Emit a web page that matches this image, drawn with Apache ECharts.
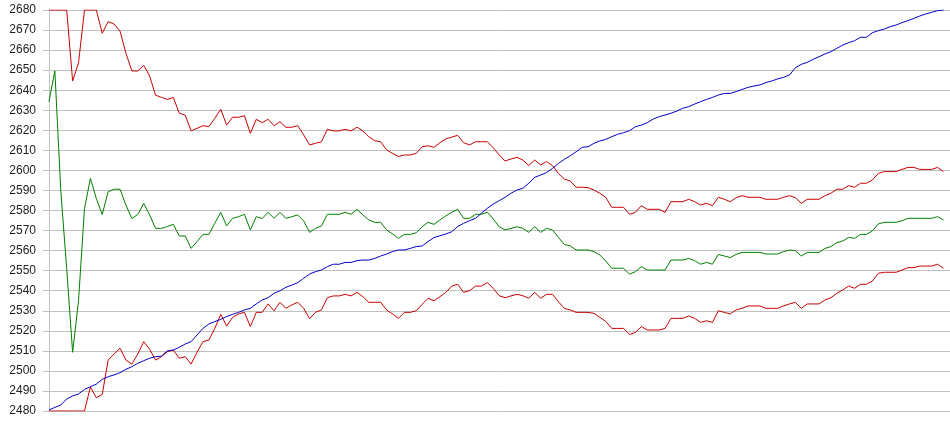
<!DOCTYPE html>
<html>
<head>
<meta charset="utf-8">
<title>Bands</title>
<script src="https://cdn.jsdelivr.net/npm/echarts@6/dist/echarts.min.js"></script>
<style>
  html, body { margin: 0; padding: 0; background: #fff; }
  #chart { width: 950px; height: 435px; }
</style>
</head>
<body>
<div id="chart"></div>
<script>
// y axis ticks
const yTicks = { min: 2480, max: 2680, step: 10 }

// values, one per step
const price = [
  2480.5, 2481.8, 2483, 2486, 2487.5, 2488.5, 2490.8, 2492.1, 2493.4, 2495.8,
  2497.1, 2498, 2499.1, 2500.8, 2502.1, 2503.8, 2505.1, 2506.3, 2507.1, 2507.4,
  2510, 2510.4, 2511.8, 2513.4, 2514.6, 2517.9, 2521.2, 2523.4, 2524.6, 2525.7,
  2527.1, 2528.2, 2529.2, 2530.4, 2531.2, 2533.4, 2535.4, 2536.5, 2538.7, 2540,
  2541.7, 2542.8, 2544, 2546.2, 2548.3, 2549.5, 2550.3, 2552, 2553.2, 2553.2,
  2554.1, 2554.1, 2555, 2555.3, 2555.3, 2556.1, 2557.3, 2558.3, 2559.5, 2560.3,
  2560.3, 2561.1, 2562, 2562.3, 2564.5, 2566.5, 2567.4, 2568.3, 2569.4, 2572,
  2573.6, 2574.9, 2576.1, 2578.6, 2581.1, 2583.2, 2584.9, 2586.6, 2588.6, 2590.2,
  2591.1, 2593.6, 2596.5, 2597.7, 2598.9, 2601, 2603.5, 2605.5, 2607.3, 2609.3,
  2611.5, 2611.8, 2613.5, 2614.7, 2615.5, 2616.8, 2618, 2618.8, 2619.8, 2621.8,
  2622.6, 2623.8, 2625.6, 2626.8, 2627.6, 2628.5, 2629.6, 2631, 2631.8, 2633.1,
  2634.3, 2635.4, 2636.4, 2637.6, 2638.4, 2638.4, 2639.3, 2640.4, 2641.4, 2642.1,
  2642.6, 2643.8, 2644.6, 2645.6, 2646.4, 2647.6, 2651.2, 2652.9, 2653.9, 2655.4,
  2656.7, 2658.1, 2659.2, 2660.9, 2662.5, 2663.7, 2664.7, 2666.4, 2666.4, 2668.7,
  2669.7, 2670.5, 2671.7, 2672.5, 2673.7, 2674.7, 2675.8, 2677, 2678, 2678.8,
  2679.7, 2680
]

const upper = [
  2680, 2680, 2680, 2680, 2644.6, 2653.7, 2680, 2680, 2680, 2668.4,
  2674.2, 2673, 2669.5, 2658.4, 2649.6, 2649.6, 2652.4, 2647.1, 2637.5, 2636.4,
  2635.4, 2636.4, 2628.5, 2627.6, 2619.7, 2621, 2622.3, 2621.8, 2626, 2630.5,
  2622.6, 2626.5, 2626.5, 2627.3, 2618.5, 2625.5, 2623.8, 2625.5, 2622.3, 2624.3,
  2621.5, 2621.5, 2622.3, 2617.7, 2612.7, 2613.5, 2614.3, 2620.5, 2619.7, 2619.7,
  2620.5, 2619.7, 2621.5, 2619.7, 2616.8, 2614.8, 2614.3, 2610.2, 2608.5, 2606.9,
  2607.7, 2607.7, 2608.5, 2611.8, 2612.3, 2611.5, 2613.8, 2615.7, 2616.6, 2617.5,
  2613.8, 2612.7, 2614.3, 2614.3, 2614.3, 2611.3, 2607.7, 2604.7, 2605.7, 2606.5,
  2605.2, 2602.4, 2605.2, 2602.7, 2604.4, 2602.4, 2598.5, 2595.7, 2594.7, 2591.6,
  2591.6, 2591.4, 2590.2, 2588.6, 2586.5, 2581.6, 2581.6, 2581.6, 2578.1, 2579.1,
  2582.4, 2580.6, 2580.6, 2580.6, 2579.1, 2584.4, 2584.4, 2584.4, 2585.6, 2584.4,
  2582.7, 2583.6, 2582.4, 2586.6, 2585.6, 2584.4, 2586.4, 2587.4, 2586.6, 2586.6,
  2586.6, 2585.6, 2585.6, 2585.6, 2586.6, 2587.4, 2586.4, 2583.6, 2585.6, 2585.6,
  2585.6, 2587.4, 2588.6, 2590.6, 2590.6, 2592.4, 2591.6, 2593.6, 2593.6, 2595.2,
  2598.5, 2599.4, 2599.4, 2599.4, 2600.5, 2601.5, 2601.5, 2600.5, 2600.5, 2600.5,
  2601.5, 2599.4
]

const middle = [
  2634.3, 2649.6, 2590, 2551, 2509.3, 2535, 2581, 2596, 2586, 2578,
  2589.4, 2590.6, 2590.6, 2582.7, 2576, 2578, 2583.6, 2577.8, 2571.1, 2571.1,
  2572, 2573.1, 2567.3, 2567.3, 2561.1, 2564.5, 2568.1, 2568.1, 2573.6, 2579.1,
  2572.3, 2576.1, 2576.9, 2578.1, 2570.3, 2576.9, 2576, 2579.1, 2576.1, 2579.1,
  2576.1, 2576.9, 2577.8, 2574.8, 2569.1, 2571.1, 2572.3, 2578.1, 2578.1, 2578.1,
  2579.1, 2578.1, 2580.6, 2577.8, 2575.3, 2574.1, 2574.1, 2570.3, 2568.3, 2566.1,
  2568.1, 2568.1, 2568.9, 2571.9, 2574.1, 2573.1, 2575.3, 2577.3, 2579.1, 2580.6,
  2576.1, 2576.1, 2578.1, 2578.1, 2579.1, 2575.8, 2571.9, 2570.3, 2571.1, 2571.9,
  2571.1, 2569.1, 2571.9, 2569.1, 2571.1, 2570.3, 2566.6, 2563.1, 2562.3, 2560.3,
  2560.3, 2560.3, 2559.5, 2557.8, 2554.8, 2551.2, 2551.2, 2551.2, 2548.2, 2549.5,
  2552, 2550.3, 2550.3, 2550.3, 2550.3, 2555.3, 2555.3, 2555.3, 2556.1, 2555,
  2553.2, 2554.1, 2553.2, 2558.1, 2557.3, 2556.5, 2558.1, 2559.1, 2559.1, 2559.1,
  2559.1, 2558.3, 2558.3, 2558.3, 2559.5, 2560.3, 2560, 2557.3, 2559.1, 2559.1,
  2559.1, 2561.1, 2562, 2564, 2564.8, 2566.6, 2566.1, 2568.1, 2568.1, 2569.8,
  2573.3, 2574.1, 2574.1, 2574.1, 2574.9, 2576.1, 2576.1, 2576.1, 2576.1, 2576.1,
  2576.9, 2575.3
]

const lower = [
  2480, 2480, 2480, 2480, 2480, 2480, 2480, 2492, 2486.6, 2488.3,
  2505.4, 2508.4, 2511.3, 2505.4, 2503.4, 2508.4, 2514.6, 2510.8, 2505.4, 2507.1,
  2509.6, 2510.4, 2506.3, 2507.1, 2503.4, 2509.3, 2514.6, 2515.4, 2521.2, 2528.2,
  2522.4, 2526.7, 2528.4, 2529.2, 2522.1, 2529.2, 2529.2, 2533.4, 2530, 2534.2,
  2531.2, 2532.9, 2534.2, 2531.2, 2526, 2529.2, 2530.4, 2536.5, 2537.4, 2537.4,
  2538.2, 2537.4, 2539.2, 2537, 2534.2, 2534.2, 2534.2, 2530.4, 2528.4, 2526.2,
  2529.2, 2529.2, 2530, 2533.2, 2536.2, 2535, 2537, 2539.2, 2542.3, 2543.2,
  2539.2, 2540, 2542.3, 2542.3, 2544, 2541.2, 2537.5, 2536.5, 2537.4, 2538.2,
  2537.5, 2536.2, 2539.2, 2536.2, 2538.2, 2538.2, 2534.5, 2531.2, 2530.4, 2529.2,
  2529.2, 2529.2, 2528.7, 2526.7, 2524.7, 2521.2, 2521.2, 2521.2, 2518.2, 2519.2,
  2522.1, 2520.4, 2520.4, 2520.4, 2521.2, 2526.2, 2526.2, 2526.2, 2527.4, 2526.2,
  2524.2, 2525, 2524.2, 2530, 2529.2, 2528.4, 2530.4, 2531.2, 2532.4, 2532.4,
  2532.4, 2531.2, 2531.2, 2531.2, 2532.4, 2533.4, 2534.2, 2531.2, 2533.4, 2533.4,
  2533.4, 2535.4, 2536.5, 2538.7, 2540.4, 2542.3, 2541.2, 2543.2, 2543.2, 2544.8,
  2548.7, 2549.2, 2549.2, 2549.2, 2550.3, 2551.5, 2551.5, 2552.3, 2552.3, 2552.3,
  2553.2, 2551.2
]

const chart = echarts.init(document.getElementById('chart'))

const toPoints = arr => arr.map((v, i) => [i, v])

const lineSeries = (name, arr, color) => ({
  name: name,
  type: 'line',
  data: toPoints(arr),
  showSymbol: false,
  silent: true,
  lineStyle: { color: color, width: 1 },
  itemStyle: { color: color }
})

chart.setOption({
  animation: false,
  backgroundColor: '#fff',
  grid: {
    left: 43,
    right: 0,
    top: 10,
    bottom: 24
  },
  xAxis: {
    type: 'value',
    min: -1,
    max: 152.1,
    show: false
  },
  yAxis: {
    type: 'value',
    min: yTicks.min,
    max: yTicks.max,
    interval: yTicks.step,
    axisLine: { show: true, lineStyle: { color: '#c0c0c0', width: 1 } },
    axisTick: { show: false },
    axisLabel: {
      color: '#222',
      fontSize: 12,
      fontFamily: '"Liberation Sans", Arial, sans-serif',
      margin: 7,
      formatter: v => String(v)
    },
    splitLine: { lineStyle: { color: '#c0c0c0', width: 1 } }
  },
  series: [
    lineSeries('upper', upper, '#c80000'),
    lineSeries('middle', middle, '#008000'),
    lineSeries('lower', lower, '#c80000'),
    lineSeries('price', price, '#0000c8')
  ]
})
</script>
</body>
</html>
